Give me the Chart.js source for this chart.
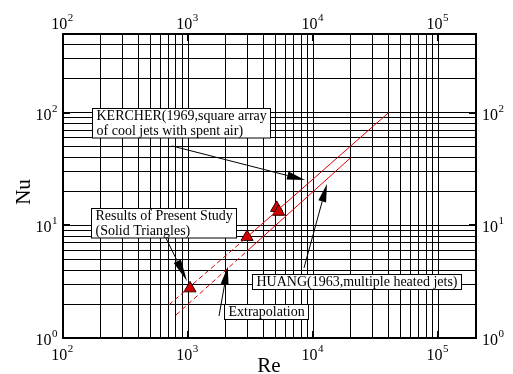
<!DOCTYPE html>
<html>
<head>
<meta charset="utf-8">
<script src="https://cdn.jsdelivr.net/npm/chart.js@4/dist/chart.umd.min.js"></script>
<style>
html,body{margin:0;padding:0;background:#fff;}
#wrap{width:513px;height:374px;}
</style>
</head>
<body>
<div id="wrap"><canvas id="c" width="513" height="374"></canvas></div>
<script>
// ---- data ----
const kercherRe = [700, 2700, 40000];
const kercherNu = [1.96, 7.2, 100];
const huangRe = [800, 3000, 20000];
const huangNu = [1.6, 6.0, 40];
const studyRe = [1035, 2960, 5100, 5290];
const studyNu = [2.76, 7.9, 14.3, 13.2];

const xDecades = [1e2, 1e3, 1e4, 1e5];
const yDecades = [1e0, 1e1, 1e2];
const xDecadeExp = ['2', '3', '4', '5'];
const yDecadeExp = ['0', '1', '2'];
const minorMult = [2, 3, 4, 5, 6, 7, 8, 9];
const xMin = 100, xMax = 200000, yMin = 1, yMax = 500;

const annoBoxes = [
  {lines: ['KERCHER(1969,square array', 'of cool jets with spent air)'], x: 171, y: 110},
  {lines: ['Results of Present Study', '(Solid Triangles)'], x: 167, y: 14.3},
  {lines: ['Extrapolation'], x: 1936, y: 2.0},
  {lines: ['HUANG(1963,multiple heated jets)'], x: 3243, y: 3.7}
];
const annoArrows = [
  {from: [743, 50.7], to: [8590, 25.3], head: 18},
  {from: [653, 8.05], to: [979, 3.21], head: 22},
  {from: [1766, 1.57], to: [2075, 4.3], head: 18},
  {from: [8440, 4.19], to: [12880, 23.3], head: 18}
];

function buildTicks(decades, maxV) {
  const t = [];
  decades.forEach(d => {
    t.push(d);
    minorMult.forEach(m => { if (d * m <= maxV) t.push(d * m); });
  });
  return t.filter(v => v <= maxV).map(v => ({value: v}));
}

const SERIF = '"Liberation Serif", "DejaVu Serif", serif';

const decor = {
  id: 'decor',
  afterDraw(chart) {
    const {ctx, chartArea: a, scales} = chart;
    const xs = scales.x, ys = scales.y;
    ctx.save();
    // border
    ctx.strokeStyle = '#000';
    ctx.lineWidth = 2;
    ctx.strokeRect(a.left, a.top, a.right - a.left, a.bottom - a.top);
    // decade ticks
    ctx.lineWidth = 2;
    ctx.beginPath();
    xDecades.forEach(v => {
      const px = Math.round(xs.getPixelForValue(v));
      ctx.moveTo(px, a.bottom); ctx.lineTo(px, a.bottom - 7);
      ctx.moveTo(px, a.top); ctx.lineTo(px, a.top + 7);
    });
    yDecades.forEach(v => {
      const py = Math.round(ys.getPixelForValue(v));
      ctx.moveTo(a.left, py); ctx.lineTo(a.left + 7, py);
      ctx.moveTo(a.right, py); ctx.lineTo(a.right - 7, py);
    });
    ctx.stroke();

    // tick labels with superscripts
    ctx.fillStyle = '#000';
    ctx.textBaseline = 'alphabetic';
    ctx.textAlign = 'left';
    const big = '16px ' + SERIF, small = '11px ' + SERIF;
    function measure(e) {
      ctx.font = big; const w1 = ctx.measureText('10').width;
      ctx.font = small; const w2 = ctx.measureText(e).width;
      return [w1, w2];
    }
    function draw(e, left, base, supBase) {
      const [w1] = measure(e);
      ctx.font = big; ctx.fillText('10', left, base);
      ctx.font = small; ctx.fillText(e, left + w1 + 0.5, supBase);
    }
    xDecades.forEach((v, i) => {
      const e = xDecadeExp[i];
      const px = xs.getPixelForValue(v);
      const [w1, w2] = measure(e);
      const left = px - (w1 + w2) / 2 - 1;
      draw(e, left, 360, 352);
      draw(e, left, 29, 21);
    });
    yDecades.forEach((v, i) => {
      const e = yDecadeExp[i];
      const py = ys.getPixelForValue(v);
      const [w1, w2] = measure(e);
      draw(e, a.left - 6 - (w1 + w2), py + 7, py - 1);
      draw(e, a.right + 6, py + 7, py - 1);
    });

    // axis titles
    ctx.font = '21px ' + SERIF;
    ctx.textAlign = 'center';
    ctx.fillText('Re', 269, 372);
    ctx.save();
    ctx.translate(30, 192);
    ctx.rotate(-Math.PI / 2);
    ctx.fillText('Nu', 0, 0);
    ctx.restore();

    // annotation arrows
    ctx.fillStyle = '#000';
    ctx.strokeStyle = '#000';
    annoArrows.forEach(ar => {
      const x0 = xs.getPixelForValue(ar.from[0]), y0 = ys.getPixelForValue(ar.from[1]);
      const x1 = xs.getPixelForValue(ar.to[0]), y1 = ys.getPixelForValue(ar.to[1]);
      const ang = Math.atan2(y1 - y0, x1 - x0);
      const L = ar.head, W = 4;
      const bx = x1 - L * Math.cos(ang), by = y1 - L * Math.sin(ang);
      ctx.lineWidth = 1;
      ctx.beginPath(); ctx.moveTo(x0, y0); ctx.lineTo(bx, by); ctx.stroke();
      ctx.beginPath();
      ctx.moveTo(x1, y1);
      ctx.lineTo(bx + W * Math.sin(ang), by - W * Math.cos(ang));
      ctx.lineTo(bx - W * Math.sin(ang), by + W * Math.cos(ang));
      ctx.closePath(); ctx.fill();
    });

    // annotation boxes
    ctx.font = '14px ' + SERIF;
    ctx.textAlign = 'left';
    annoBoxes.forEach(b => {
      const left = Math.round(xs.getPixelForValue(b.x)) + 0.5;
      const top = Math.round(ys.getPixelForValue(b.y)) + 0.5;
      let w = 0;
      b.lines.forEach(l => { w = Math.max(w, ctx.measureText(l).width); });
      const bw = Math.round(w + 8), bh = b.lines.length * 14.5 + 0.5;
      ctx.fillStyle = '#fff';
      ctx.fillRect(left, top, bw, bh);
      ctx.strokeStyle = '#000'; ctx.lineWidth = 1;
      ctx.strokeRect(left, top, bw, bh);
      ctx.fillStyle = '#000';
      b.lines.forEach((l, i) => ctx.fillText(l, left + 4, top + 11.5 + i * 14.5));
    });
    ctx.restore();
  }
};

const pts = (xs, ys) => xs.map((x, i) => ({x, y: ys[i]}));

new Chart(document.getElementById('c'), {
  type: 'scatter',
  data: {
    datasets: [
      {label: 'KERCHER', data: pts(kercherRe, kercherNu), showLine: true,
       borderColor: '#e00000', borderWidth: 1, pointRadius: 0,
       segment: {borderDash: c => c.p0DataIndex === 0 ? [5, 3] : undefined}},
      {label: 'HUANG', data: pts(huangRe, huangNu), showLine: true,
       borderColor: '#e00000', borderWidth: 1, pointRadius: 0,
       segment: {borderDash: c => c.p0DataIndex === 0 ? [5, 3] : undefined}},
      {label: 'Present Study', data: pts(studyRe, studyNu), showLine: false,
       pointStyle: 'triangle', pointRadius: 7, backgroundColor: '#d00000',
       borderColor: '#300000', borderWidth: 1}
    ]
  },
  options: {
    responsive: false,
    animation: false,
    events: [],
    layout: {padding: {left: 63, right: 37, top: 34, bottom: 36}},
    plugins: {legend: {display: false}, tooltip: {enabled: false}},
    scales: {
      x: {type: 'logarithmic', min: xMin, max: xMax,
          afterBuildTicks: s => { s.ticks = buildTicks(xDecades, xMax); },
          ticks: {display: false},
          border: {display: false},
          grid: {color: '#000', lineWidth: 1, drawTicks: false}},
      y: {type: 'logarithmic', min: yMin, max: yMax,
          afterBuildTicks: s => { s.ticks = buildTicks(yDecades, yMax); },
          ticks: {display: false},
          border: {display: false},
          grid: {color: '#000', lineWidth: 1, drawTicks: false}}
    }
  },
  plugins: [decor]
});
</script>
</body>
</html>
